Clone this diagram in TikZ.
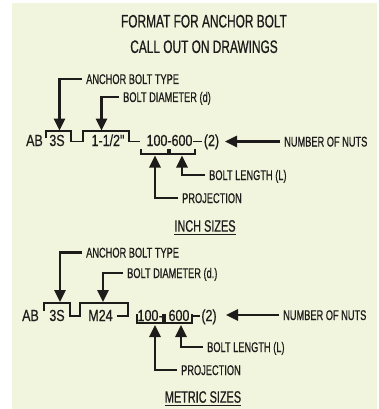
\documentclass[tikz,border=0pt]{standalone}
\usepackage{fontspec}
\setmainfont{Liberation Sans}[FakeStretch=0.66,FakeBold=0.6]
\newfontfamily\rowfont{Liberation Sans}[FakeStretch=0.78,FakeBold=0.6]
\usetikzlibrary{arrows.meta}
\definecolor{paper}{RGB}{241,245,222}
\definecolor{ink}{RGB}{30,28,26}
\tikzset{lbl/.style={anchor=west,inner xsep=4pt,inner ysep=0pt,text height=10pt,text depth=0pt,font=\fontsize{14}{16}\selectfont},
  row/.style={anchor=base,inner sep=0pt,font=\rowfont\fontsize{16}{18}\selectfont},
  head/.style={inner sep=0pt,font=\fontsize{16.5}{19}\selectfont},
  line/.style={line width=2.7pt,-{Triangle[width=11pt,length=12pt]}},
  brk/.style={line width=1.8pt}}

\begin{document}
\begin{tikzpicture}[x=1pt,y=-1pt,ink]
\useasboundingbox (0,0) rectangle (378,409);
\fill[paper] (12,3) rectangle (377,409);
\node[align=center,font=\fontsize{18}{25.5}\selectfont] (title) at (204,34) {FORMAT FOR ANCHOR BOLT\\CALL OUT ON DRAWINGS};

% inch sizes
\node[row] (ab1) at (34.5,146) {AB};
\node[row] (typ1) at (57,146) {3S};
\node[row] (dia1) at (108,146) {1-1/2"};
\node[row] (prj1) at (157,146) {100};
\node[row] (hy1) at (169.5,146) {-};
\node[row] (len1) at (182,146) {600};
\node[row] (nut1) at (211.5,146) {(2)};
\draw[brk] (46,138) |- (71,131) -- (71,141.5) -| (83,131) -| (129,141.5) -- (140,141.5);
\draw[brk] (193,141.5) -- (202,141.5);
\draw[brk] (141,149) |- (168,154) -- (168,149);
\draw[brk] (170,149) |- (195,154) -- (195,149);
\coordinate (t1) at (59.5,130.5);
\coordinate (t2) at (101.5,130.5);
\coordinate (t3) at (225,141.5);
\coordinate (t4) at (182,155.5);
\coordinate (t5) at (155,155.5);
\node[lbl] (abt1) at (82,79) {ANCHOR BOLT TYPE};
\node[lbl] (bdia1) at (119,97) {BOLT DIAMETER (d)};
\node[lbl] (nuts1) at (280,141.5) {NUMBER OF NUTS};
\node[lbl] (blen1) at (205,175) {BOLT LENGTH (L)};
\node[lbl] (proj1) at (178,198) {PROJECTION};
\draw[line] (abt1) -| (t1);
\draw[line] (bdia1) -| (t2);
\draw[line] (nuts1) -- (t3);
\draw[line] (blen1) -| (t4);
\draw[line] (proj1) -| (t5);
\node[head] (inch) at (205,226) {INCH SIZES};
\draw[line width=0.8pt] ([yshift=-2pt]inch.south west) -- ([yshift=-2pt]inch.south east);

% metric sizes
\node[row] (ab2) at (30.5,321) {AB};
\node[row] (typ2) at (57,321) {3S};
\node[row] (dia2) at (100.5,321) {M24};
\node[row] (prj2) at (148,321) {100};
\node[row] (hy2) at (161,321) {-};
\node[row] (len2) at (179,321) {600};
\node[row] (nut2) at (209,321) {(2)};
\draw[brk] (44,311) |- (70,303) -- (70,316) -| (80,303) -| (128,316) -- (117,316);
\draw[brk] (192,316) -- (200,316);
\draw[brk] (137,314) |- (163,323) -- (163,314);
\draw[brk] (165,314) |- (192,323) -- (192,314);
\coordinate (u1) at (60,302);
\coordinate (u2) at (103,302);
\coordinate (u3) at (226,315);
\coordinate (u4) at (181,325);
\coordinate (u5) at (155,325);
\node[lbl] (abt2) at (82,252.5) {ANCHOR BOLT TYPE};
\node[lbl] (bdia2) at (123,273) {BOLT DIAMETER (d.)};
\node[lbl] (nuts2) at (279,315) {NUMBER OF NUTS};
\node[lbl] (blen2) at (203,347) {BOLT LENGTH (L)};
\node[lbl] (proj2) at (177,370) {PROJECTION};
\draw[line] (abt2) -| (u1);
\draw[line] (bdia2) -| (u2);
\draw[line] (nuts2) -- (u3);
\draw[line] (blen2) -| (u4);
\draw[line] (proj2) -| (u5);
\node[head] (metric) at (203,397) {METRIC SIZES};
\draw[line width=0.8pt] ([yshift=-2pt]metric.south west) -- ([yshift=-2pt]metric.south east);
\end{tikzpicture}
\end{document}
